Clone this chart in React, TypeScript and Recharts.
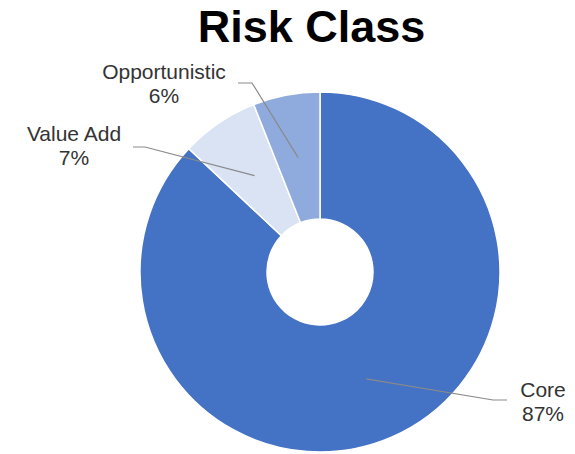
import React from "react";
import { PieChart, Pie, Cell } from "recharts";

const categories = ["Core", "Value Add", "Opportunistic"];
const shares = [87, 7, 6];
const colors = ["#4472C4", "#DAE3F3", "#8FAADC"];
const title = "Risk Class";

// manual label placement (offsets from pie centre), like the original's hand-placed labels
const labelText = [
  { tx: 223, ty: 125 },
  { tx: -246, ty: -131 },
  { tx: -156, ty: -193 },
];
const leaderElbow = [
  { ex: 173, ey: 128, lx: 187 },
  { ex: -175, ey: -125, lx: -187 },
  { ex: -68, ey: -189, lx: -82 },
];

const data = categories.map((name, i) => ({ name, value: shares[i] }));
const RAD = Math.PI / 180;
const FONT = "'Liberation Sans', Arial, sans-serif";

const renderLabel = (props: any) => {
  const { cx, cy, midAngle, innerRadius, outerRadius, percent, index, name } = props;
  const r = (innerRadius + outerRadius) / 2;
  const sx = cx + r * Math.cos(-midAngle * RAD);
  const sy = cy + r * Math.sin(-midAngle * RAD);
  const e = leaderElbow[index];
  const t = labelText[index];
  const x = cx + t.tx;
  const y = cy + t.ty;
  return (
    <g key={`lbl-${index}`}>
      <polyline
        points={`${sx},${sy} ${cx + e.ex},${cy + e.ey} ${cx + e.lx},${cy + e.ey}`}
        fill="none"
        stroke="#8a8a8a"
        strokeWidth={1.2}
      />
      <text x={x} y={y} textAnchor="middle" fill="#333333" fontSize={21} fontFamily={FONT}>
        <tspan x={x} y={y}>{name}</tspan>
        <tspan x={x} y={y + 24}>{`${Math.round(percent * 100)}%`}</tspan>
      </text>
    </g>
  );
};

export default function App() {
  return (
    <div style={{ position: "absolute", left: 0, top: 0, width: 575, height: 454, background: "#fff" }}>
      <PieChart width={575} height={454} margin={{ top: 0, right: 0, bottom: 0, left: 0 }}>
        <Pie
          data={data}
          dataKey="value"
          nameKey="name"
          cx={320}
          cy={272}
          innerRadius={53}
          outerRadius={180}
          startAngle={90}
          endAngle={-270}
          stroke="#ffffff"
          strokeWidth={1.5}
          label={renderLabel}
          labelLine={false}
          isAnimationActive={false}
        >
          {data.map((d, i) => (
            <Cell key={d.name} fill={colors[i]} />
          ))}
        </Pie>
      </PieChart>
      <svg width={575} height={60} style={{ position: "absolute", left: 0, top: 0, pointerEvents: "none" }}>
        <text x={311.5} y={42} textAnchor="middle" fontSize={45} fontWeight="bold" fontFamily={FONT} fill="#000">
          {title}
        </text>
      </svg>
    </div>
  );
}
